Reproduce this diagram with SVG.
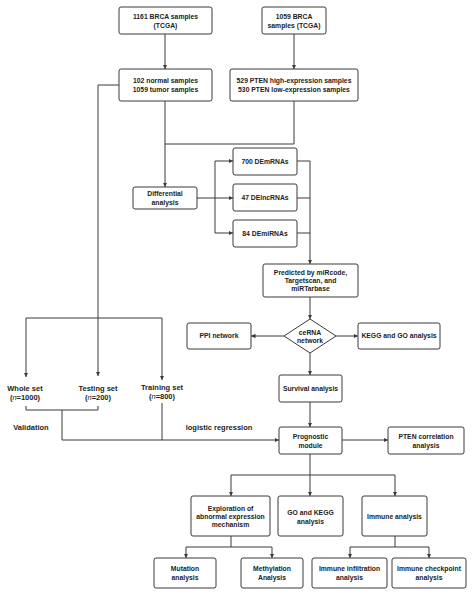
<svg xmlns="http://www.w3.org/2000/svg" width="474" height="594" viewBox="0 0 474 594">
<style>
.box{fill:#fff;stroke:#3a3a3a;stroke-width:1}
.t{font-family:"Liberation Sans",Arial,sans-serif;font-weight:bold;font-size:6.8px;fill:#222;text-anchor:middle}
.lb{font-family:"Liberation Sans",Arial,sans-serif;font-weight:bold;font-size:7.5px;fill:#222;text-anchor:middle}
.c{fill:none;stroke:#3a3a3a;stroke-width:1}
.a{marker-end:url(#ah)}
</style>
<defs>
<marker id="ah" viewBox="0 0 8 8" refX="8" refY="4" markerWidth="4.5" markerHeight="4.5" orient="auto" markerUnits="userSpaceOnUse"><path d="M0,0 L8,4 L0,8 z" fill="#3a3a3a"/></marker>
</defs>
<rect width="474" height="594" fill="#fff"/>
<g id="connectors">
<path class="c a" d="M165,34 V69"/>
<path class="c a" d="M294,34 V69"/>
<path class="c" d="M119,85 H98 V318"/>
<path class="c" d="M26,318 H162"/>
<path class="c a" d="M26,318 V377"/>
<path class="c a" d="M98,318 V376"/>
<path class="c a" d="M162,318 V380"/>
<path class="c a" d="M165,101 V187"/>
<path class="c" d="M294,101 V144 H165"/>
<path class="c a" d="M197,198 H233"/>
<path class="c" d="M215,161 V233"/>
<path class="c a" d="M215,161 H233"/>
<path class="c a" d="M215,233 H233"/>
<path class="c" d="M297,161 H310"/>
<path class="c" d="M297,198 H310"/>
<path class="c" d="M297,233 H310"/>
<path class="c a" d="M310,161 V264"/>
<path class="c a" d="M310,297 V319"/>
<path class="c a" d="M284,336 H251"/>
<path class="c a" d="M336,336 H358"/>
<path class="c a" d="M310,353 V375"/>
<path class="c a" d="M310,402 V427"/>
<path class="c a" d="M342,440 H388"/>
<path class="c a" d="M62,440 H279"/>
<path class="c" d="M162,403 V440"/>
<path class="c" d="M26,406 V410 H98 V406"/>
<path class="c" d="M62,410 V440"/>
<path class="c" d="M310,454 V475"/>
<path class="c" d="M231,475 H395"/>
<path class="c a" d="M231,475 V496"/>
<path class="c a" d="M310,475 V496"/>
<path class="c a" d="M395,475 V496"/>
<path class="c" d="M231,536 V547"/>
<path class="c" d="M186,547 H272"/>
<path class="c a" d="M186,547 V558"/>
<path class="c a" d="M272,547 V558"/>
<path class="c" d="M395,536 V547"/>
<path class="c" d="M350,547 H429"/>
<path class="c a" d="M350,547 V558"/>
<path class="c a" d="M429,547 V558"/>
</g>
<g id="n1"><rect class="box" x="119" y="7" width="93" height="27" rx="2"/><text class="t" x="165.5" y="19.4">1161 BRCA samples</text><text class="t" x="165.5" y="27.6">(TCGA)</text></g>
<g id="n2"><rect class="box" x="262" y="7" width="64" height="27" rx="2"/><text class="t" x="294" y="19.4">1059 BRCA</text><text class="t" x="294" y="27.6">samples (TCGA)</text></g>
<g id="n3"><rect class="box" x="119" y="69" width="93" height="32" rx="2"/><text class="t" x="165.5" y="83.4">102 normal samples</text><text class="t" x="165.5" y="91.6">1059 tumor samples</text></g>
<g id="n4"><rect class="box" x="230" y="69" width="128" height="32" rx="2"/><text class="t" x="294" y="83.4">529 PTEN high-expression samples</text><text class="t" x="294" y="91.6">530 PTEN low-expression samples</text></g>
<g id="n5"><rect class="box" x="133" y="187" width="64" height="22" rx="2"/><text class="t" x="165" y="196.4">Differential</text><text class="t" x="165" y="204.6">analysis</text></g>
<g id="n6"><rect class="box" x="233" y="148" width="64" height="27" rx="2"/><text class="t" x="265" y="163.9">700 DEmRNAs</text></g>
<g id="n7"><rect class="box" x="233" y="184" width="64" height="27" rx="2"/><text class="t" x="265" y="199.9">47 DElncRNAs</text></g>
<g id="n8"><rect class="box" x="233" y="220" width="64" height="27" rx="2"/><text class="t" x="265" y="235.9">84 DEmiRNAs</text></g>
<g id="n9"><rect class="box" x="263" y="264" width="95" height="33" rx="2"/><text class="t" x="310.5" y="275.4">Predicted by miRcode,</text><text class="t" x="310.5" y="283.4">Targetscan, and</text><text class="t" x="310.5" y="291.4">miRTarbase</text></g>
<g id="n10"><polygon class="box" points="310,319 336,336 310,353 284,336"/><text class="t" x="310" y="335.4">ceRNA</text><text class="t" x="310" y="343.4">network</text></g>
<g id="n11"><rect class="box" x="187" y="323" width="64" height="26" rx="2"/><text class="t" x="219" y="338.4">PPI network</text></g>
<g id="n12"><rect class="box" x="358" y="323" width="82" height="26" rx="2"/><text class="t" x="399" y="338.4">KEGG and GO analysis</text></g>
<g id="n13"><rect class="box" x="279" y="375" width="63" height="27" rx="2"/><text class="t" x="310.5" y="390.9">Survival analysis</text></g>
<g id="n14"><rect class="box" x="279" y="427" width="63" height="27" rx="2"/><text class="t" x="310.5" y="439.4">Prognostic</text><text class="t" x="310.5" y="447.6">module</text></g>
<g id="n15"><rect class="box" x="388" y="427" width="76" height="27" rx="2"/><text class="t" x="426" y="439.4">PTEN correlation</text><text class="t" x="426" y="447.6">analysis</text></g>
<g id="n16"><rect class="box" x="191" y="496" width="79" height="40" rx="2"/><text class="t" x="230.5" y="511.4">Exploration of</text><text class="t" x="230.5" y="519.4">abnormal expression</text><text class="t" x="230.5" y="527.4">mechanism</text></g>
<g id="n17"><rect class="box" x="278" y="496" width="65" height="40" rx="2"/><text class="t" x="310.5" y="515.4">GO and KEGG</text><text class="t" x="310.5" y="523.6">analysis</text></g>
<g id="n18"><rect class="box" x="362" y="496" width="65" height="40" rx="2"/><text class="t" x="394.5" y="519.4">Immune analysis</text></g>
<g id="n19"><rect class="box" x="154" y="558" width="62" height="30" rx="2"/><text class="t" x="185" y="571.4">Mutation</text><text class="t" x="185" y="579.8">analysis</text></g>
<g id="n20"><rect class="box" x="241" y="558" width="62" height="30" rx="2"/><text class="t" x="272" y="571.4">Methylation</text><text class="t" x="272" y="579.8">Analysis</text></g>
<g id="n21"><rect class="box" x="312" y="558" width="75" height="30" rx="2"/><text class="t" x="349.5" y="571.4">Immune infiltration</text><text class="t" x="349.5" y="579.8">analysis</text></g>
<g id="n22"><rect class="box" x="392" y="558" width="74" height="30" rx="2"/><text class="t" x="429" y="571.4">Immune checkpoint</text><text class="t" x="429" y="579.8">analysis</text></g>
<g id="labels">
<text class="lb" x="25" y="391.4">Whole set</text>
<text class="lb" x="25" y="400.4">(<tspan font-style="italic" font-weight="normal">n</tspan>=1000)</text>
<text class="lb" x="98" y="391.4">Testing set</text>
<text class="lb" x="98" y="400.4">(<tspan font-style="italic" font-weight="normal">n</tspan>=200)</text>
<text class="lb" x="162" y="389.5">Training set</text>
<text class="lb" x="162" y="398.5">(<tspan font-style="italic" font-weight="normal">n</tspan>=800)</text>
<text class="lb" x="31" y="430">Validation</text>
<text class="lb" x="219" y="430">logistic regression</text>
</g>
</svg>
